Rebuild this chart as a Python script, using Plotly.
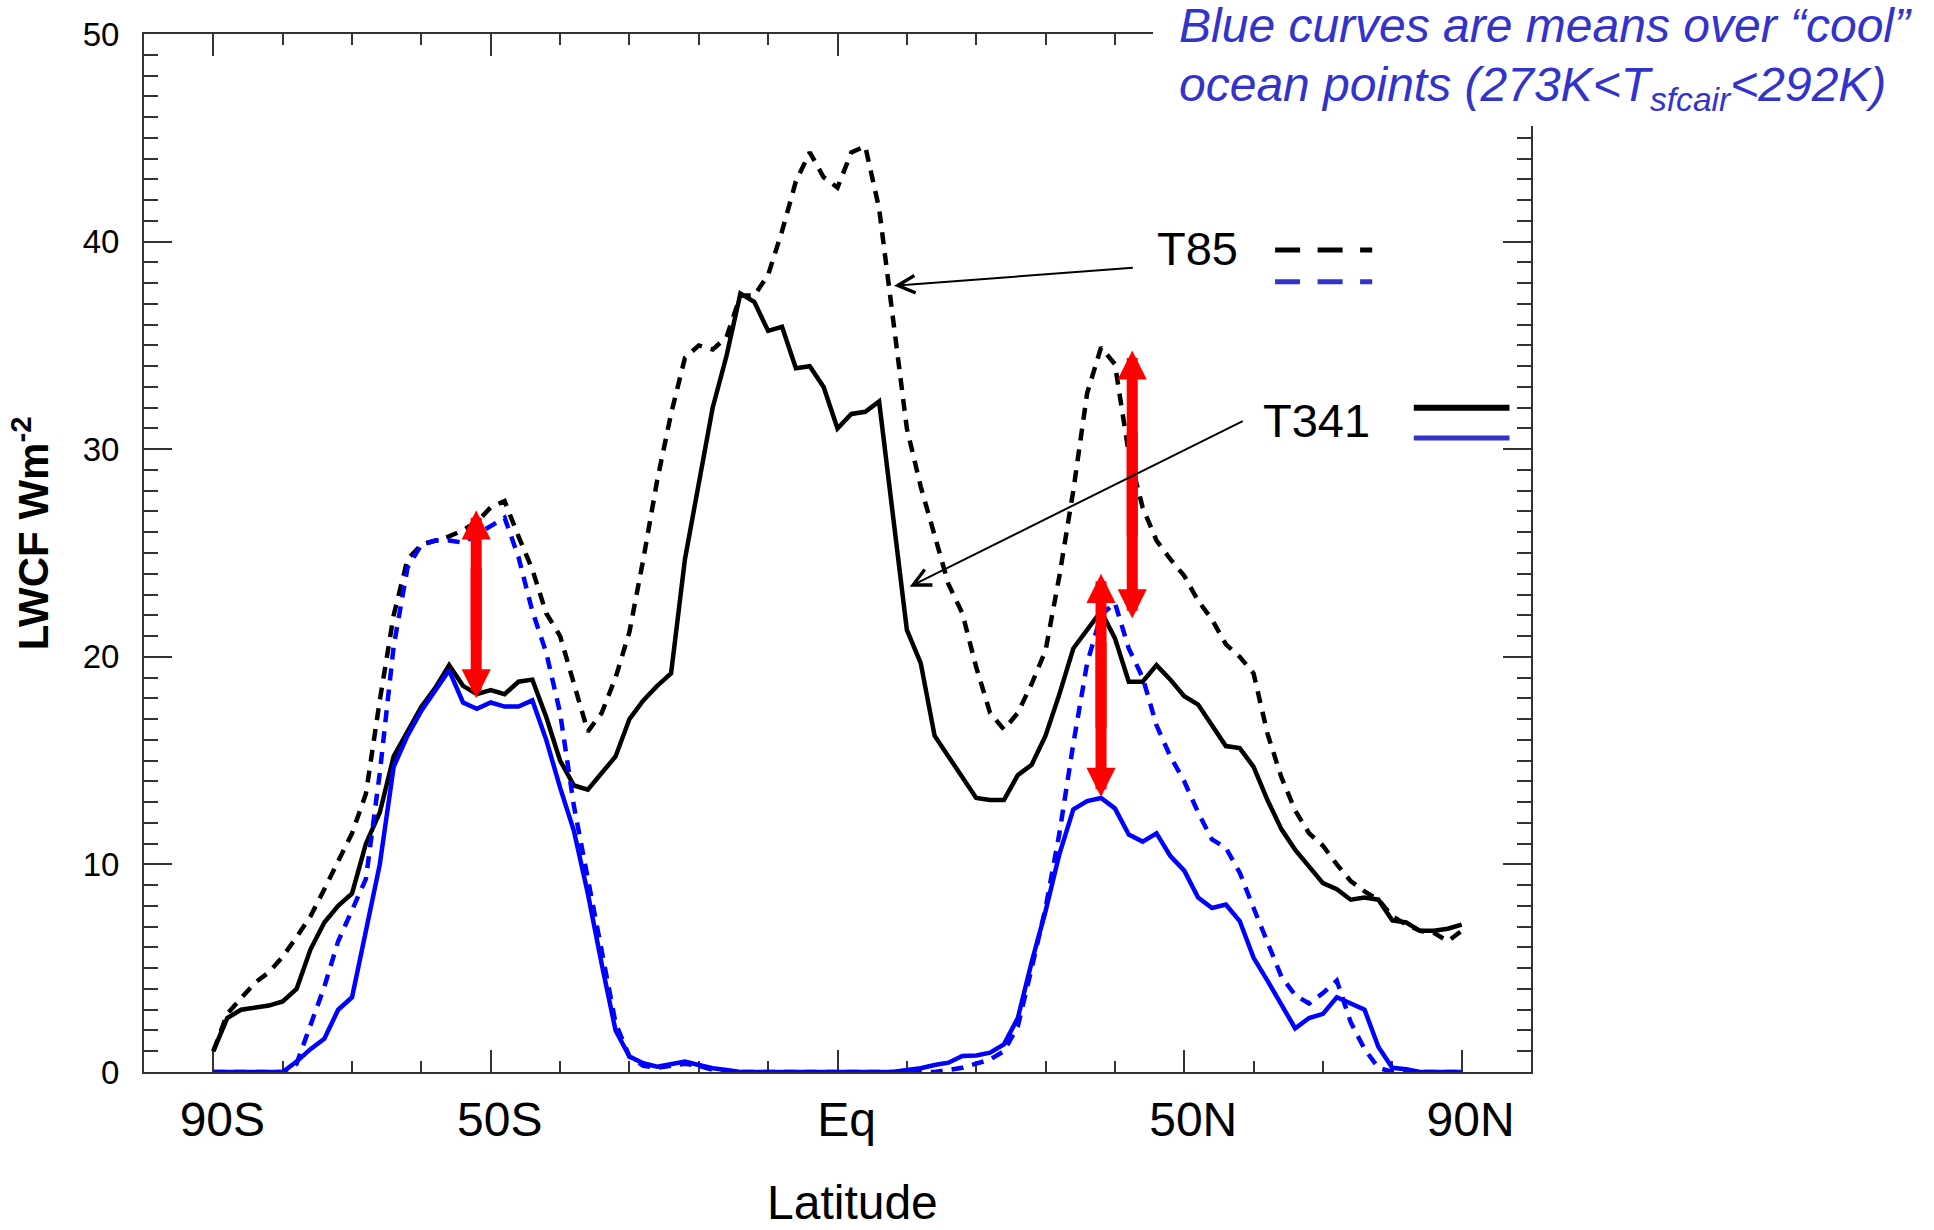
import plotly.graph_objects as go

# ---------------- data ----------------
lat = list(range(-90, 92, 2))

t341_all = [1.0, 2.6, 3.0, 3.1, 3.2, 3.4, 4.0, 5.9, 7.2, 8.0,
            8.6, 11.0, 12.5, 15.2, 16.4, 17.6, 18.5, 19.6, 18.6, 18.2,
            18.4, 18.2, 18.8, 18.9, 17.1, 15.0, 13.8, 13.6, 14.4, 15.2,
            17.0, 17.9, 18.6, 19.2, 24.7, 28.4, 32.0, 34.5, 37.5, 37.1,
            35.7, 35.9, 33.9, 34.0, 33.0, 31.0, 31.7, 31.8, 32.3, 26.8,
            21.3, 19.7, 16.2, 15.2, 14.2, 13.2, 13.1, 13.1, 14.3, 14.8,
            16.2, 18.2, 20.4, 21.3, 22.2, 20.9, 18.8, 18.8, 19.6, 18.9,
            18.1, 17.7, 16.7, 15.7, 15.6, 14.7, 13.1, 11.7, 10.7, 9.9,
            9.1, 8.8, 8.3, 8.4, 8.3, 7.3, 7.2, 6.8, 6.8, 6.9, 7.1]

t85_all = [1.0, 2.8, 3.55, 4.3, 4.8, 5.55, 6.5, 7.5, 8.8, 10.1,
           11.5, 13.4, 17.9, 22.0, 24.7, 25.4, 25.6, 25.8, 26.1, 26.5,
           27.2, 27.5, 25.8, 24.2, 22.1, 21.0, 18.7, 16.4, 17.3, 19.0,
           21.2, 24.7, 28.5, 31.7, 34.4, 35.0, 34.8, 35.4, 37.4, 37.4,
           38.4, 40.5, 42.9, 44.3, 43.1, 42.6, 44.3, 44.6, 41.6, 36.3,
           31.0, 28.2, 25.8, 23.5, 22.1, 19.5, 17.3, 16.5, 17.3, 18.7,
           20.3, 23.9, 28.0, 32.7, 34.9, 34.1, 29.8, 27.2, 25.6, 24.7,
           23.9, 22.7, 21.8, 20.6, 20.0, 19.2, 16.3, 14.2, 12.6, 11.5,
           10.9, 10.0, 9.2, 8.7, 8.3, 7.5, 7.1, 6.8, 6.7, 6.3, 6.8]

t341_cool = [0, 0, 0, 0, 0, 0, 0.5, 1.1, 1.6, 3.0,
             3.6, 6.7, 10.0, 14.7, 16.2, 17.4, 18.4, 19.35, 17.8, 17.5,
             17.8, 17.6, 17.6, 17.9, 16.0, 13.7, 11.6, 8.6, 5.2, 2.0,
             0.74, 0.42, 0.26, 0.39, 0.5, 0.34, 0.18, 0.1, 0, 0,
             0, 0, 0, 0, 0, 0, 0, 0, 0, 0,
             0.1, 0.18, 0.34, 0.45, 0.77, 0.8, 0.93, 1.33, 2.6, 5.3,
             7.75, 10.5, 12.65, 13.05, 13.2, 12.7, 11.44, 11.1, 11.5, 10.4,
             9.7, 8.4, 7.9, 8.07, 7.27, 5.5, 4.4, 3.3, 2.1, 2.6,
             2.8, 3.6, 3.3, 3.0, 1.2, 0.2, 0.13, 0, 0, 0, 0]

t85_cool = [0, 0, 0, 0, 0, 0, 0.4, 2.2, 4.1, 6.3,
            7.8, 9.3, 14.4, 20.5, 24.3, 25.4, 25.6, 25.6, 25.5, 25.9,
            26.3, 26.7, 24.8, 22.2, 20.2, 17.3, 12.8, 9.25, 5.7, 2.35,
            0.74, 0.3, 0.2, 0.3, 0.4, 0.3, 0.1, 0, 0, 0,
            0, 0, 0, 0, 0, 0, 0, 0, 0, 0,
            0, 0, 0, 0.1, 0.2, 0.4, 0.6, 1.0, 2.2, 5.0,
            7.9, 11.5, 15.8, 19.7, 22.0, 22.6, 20.4, 19.0, 16.7, 15.2,
            14.0, 12.5, 11.2, 10.8, 9.6, 7.9, 6.3, 4.6, 3.7, 3.3,
            3.8, 4.4, 2.4, 1.1, 0.2, 0, 0, 0, 0, 0, 0]

x_tick_vals = [-90, -50, 0, 50, 90]
x_tick_text = ["90S", "50S", "Eq", "50N", "90N"]
y_tick_vals = [0, 10, 20, 30, 40, 50]

# red double-headed arrows: latitude, lower end, upper end
gap_lat = [-52.1, 38.0, 42.5]
gap_low = [18.0, 13.25, 21.85]
gap_high = [27.06, 24.0, 34.76]

# ---------------- styling ----------------
FONT = "Liberation Sans, Arial, sans-serif"
AXIS = "#333333"
BLUE_TXT = "#3333CC"

fig = go.Figure()

series = [
    ("T85 (all)", t85_all, "#000000", "12px,9px"),
    ("T341 (all)", t341_all, "#000000", "solid"),
    ("T85 (cool ocean)", t85_cool, "#0000FF", "12px,9px"),
    ("T341 (cool ocean)", t341_cool, "#0000FF", "solid"),
]
for name, vals, col, dash in series:
    fig.add_trace(go.Scatter(x=lat, y=vals, mode="lines", name=name,
                             line=dict(color=col, width=4.5, dash=dash),
                             showlegend=False))

annotations = []
# red arrows: two overlapping single-headed arrows per gap
for xl, lo, hi in zip(gap_lat, gap_low, gap_high):
    span = hi - lo
    for tip, tail in ((hi, lo + 0.3 * span), (lo, hi - 0.3 * span)):
        annotations.append(dict(x=xl, y=tip, ax=xl, ay=tail, xref="x", yref="y",
                                axref="x", ayref="y", text="", showarrow=True,
                                arrowhead=2, arrowsize=0.53, arrowwidth=11,
                                arrowcolor="#FF0000"))

# labels with pointer arrows
annotations += [
    dict(x=51.95, y=39.66, xref="x", yref="y", text="T85", showarrow=False,
         font=dict(family=FONT, size=47, color="#000000")),
    dict(x=69.0, y=31.39, xref="x", yref="y", text="T341", showarrow=False,
         font=dict(family=FONT, size=47, color="#000000")),
    dict(x=8.15, y=37.87, ax=42.8, ay=38.75, xref="x", yref="y", axref="x", ayref="y",
         text="", showarrow=True, arrowhead=5, arrowsize=1.7, arrowwidth=2,
         arrowcolor="#000000"),
    dict(x=10.41, y=23.38, ax=58.65, ay=31.39, xref="x", yref="y", axref="x", ayref="y",
         text="", showarrow=True, arrowhead=5, arrowsize=1.7, arrowwidth=2,
         arrowcolor="#000000"),
    dict(x=0.7451, y=1.008, xref="paper", yref="paper", xanchor="left", yanchor="middle",
         text="<i>Blue curves are means over \u201ccool\u201d</i>", showarrow=False,
         font=dict(family=FONT, size=48, color=BLUE_TXT)),
    dict(x=0.7451, y=0.948, xref="paper", yref="paper", xanchor="left", yanchor="middle",
         text="<i>ocean points (273K&lt;T<sub>sfcair</sub>&lt;292K)</i>", showarrow=False,
         font=dict(family=FONT, size=48, color=BLUE_TXT)),
    # axis titles
    dict(x=-0.0815, y=0.519, xref="paper", yref="paper", xanchor="center", yanchor="middle",
         text="<b>LWCF Wm<sup>-2</sup></b>", textangle=-90, showarrow=False,
         font=dict(family=FONT, size=42, color="#000000")),
    dict(x=0.5105, y=-0.126, xref="paper", yref="paper", xanchor="center", yanchor="middle",
         text="Latitude", showarrow=False,
         font=dict(family=FONT, size=48, color="#000000")),
]

shapes = [
    # white block behind the note (the frame is hidden there)
    dict(type="rect", xref="paper", yref="paper", x0=0.7275, x1=1.02, y0=0.9114, y1=1.05,
         fillcolor="white", line=dict(width=0), layer="above"),
    # legend samples
    dict(type="line", xref="x", yref="y", x0=63.1, x1=77.1, y0=39.6, y1=39.6,
         line=dict(color="#000000", width=5, dash="25px,17.5px")),
    dict(type="line", xref="x", yref="y", x0=63.1, x1=77.1, y0=38.06, y1=38.06,
         line=dict(color=BLUE_TXT, width=5, dash="25px,17.5px")),
    dict(type="line", xref="x", yref="y", x0=83.1, x1=96.9, y0=32.0, y1=32.0,
         line=dict(color="#000000", width=6)),
    dict(type="line", xref="x", yref="y", x0=83.1, x1=96.9, y0=30.54, y1=30.54,
         line=dict(color=BLUE_TXT, width=5)),
]

fig.update_layout(
    width=1934, height=1230,
    margin=dict(l=144, r=403, t=34, b=158, autoexpand=False),
    paper_bgcolor="white", plot_bgcolor="white",
    font=dict(family=FONT, color="#000000"),
    annotations=annotations, shapes=shapes,
    showlegend=False,
)

fig.update_xaxes(
    range=[-100, 100], tickvals=x_tick_vals, ticktext=x_tick_text,
    ticks="inside", ticklen=22, tickwidth=2, tickcolor=AXIS,
    showline=True, linewidth=2, linecolor=AXIS, mirror="ticks",
    showgrid=False, zeroline=False, layer="below traces",
    minor=dict(dtick=10, tick0=0, ticks="inside", ticklen=11, tickwidth=2,
               tickcolor=AXIS, showgrid=False),
    tickfont=dict(family=FONT, size=48, color="#000000"),
    ticklabelstandoff=4, ticklabelshift=9, automargin=False,
)
fig.update_yaxes(
    range=[0, 50], tickvals=y_tick_vals,
    ticks="inside", ticklen=28, tickwidth=2, tickcolor=AXIS,
    showline=True, linewidth=2, linecolor=AXIS, mirror="ticks",
    showgrid=False, zeroline=False, layer="below traces",
    minor=dict(dtick=1, tick0=0, ticks="inside", ticklen=14, tickwidth=2,
               tickcolor=AXIS, showgrid=False),
    tickfont=dict(family=FONT, size=33, color="#000000"),
    ticklabelstandoff=16, automargin=False,
)

fig.write_html("out.html",
               config={"displayModeBar": False},
               post_script="document.body.style.margin='0px';"
                           "document.body.style.overflow='hidden';")
